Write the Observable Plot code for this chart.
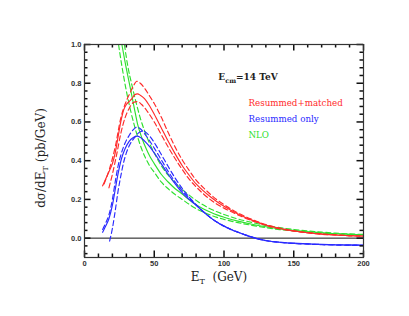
<!DOCTYPE html>
<html><head><meta charset="utf-8">
<script src="https://cdn.jsdelivr.net/npm/d3@7"></script>
<script src="https://cdn.jsdelivr.net/npm/@observablehq/plot@0.6"></script>
<style>body{margin:0;background:#fff} svg{display:block}</style>
</head><body><div id="chart"></div>
<script>
// ---- data: [E_T (GeV), dsigma/dE_T (pb/GeV)] ----
const redSolid = [[13,0.27],[15.5,0.31],[18,0.35],[20,0.385],[22,0.44],[24,0.52],[26,0.60],[28,0.66],[30,0.69],[32,0.705],[34,0.72],[36,0.74],[38,0.745],[40,0.738],[43,0.72],[46,0.69],[50,0.64],[55,0.57],[60,0.50],[65,0.435],[70,0.375],[75,0.325],[80,0.28],[85,0.245],[90,0.215],[95,0.188],[100,0.165],[110,0.125],[120,0.093],[130,0.068],[140,0.05],[150,0.037],[160,0.028],[170,0.021],[180,0.016],[190,0.013],[200,0.011]];
const redUpper = [[14,0.28],[18,0.36],[22,0.47],[26,0.62],[29,0.69],[32,0.74],[35,0.785],[37.5,0.81],[40,0.80],[43,0.775],[47,0.73],[50,0.695],[55,0.625],[60,0.545],[65,0.47],[70,0.405],[75,0.35],[80,0.30],[85,0.262],[90,0.228],[95,0.198],[100,0.173],[110,0.13],[120,0.097],[130,0.07],[140,0.052],[150,0.038],[160,0.029],[170,0.022],[180,0.017],[190,0.013],[200,0.011]];
const redLower = [[17.5,0.26],[20,0.33],[23,0.43],[26,0.54],[29,0.62],[32,0.67],[35,0.70],[38,0.705],[41,0.69],[45,0.655],[50,0.60],[55,0.535],[60,0.47],[65,0.41],[70,0.355],[75,0.305],[80,0.265],[85,0.23],[90,0.2],[95,0.175],[100,0.155],[110,0.12],[120,0.09],[130,0.066],[140,0.048],[150,0.036],[160,0.027],[170,0.02],[180,0.016],[190,0.012],[200,0.01]];

const blueSolid = [[13,0.03],[15,0.06],[17.5,0.10],[20,0.17],[22,0.25],[24,0.33],[26.5,0.41],[29,0.46],[32,0.50],[35,0.52],[38,0.527],[41,0.515],[44,0.495],[47,0.47],[50,0.44],[55,0.385],[60,0.33],[65,0.28],[70,0.235],[75,0.20],[80,0.17],[85,0.137],[90,0.107],[95,0.082],[100,0.062],[105,0.045],[110,0.03],[115,0.017],[120,0.005],[125,-0.005],[130,-0.012],[140,-0.021],[150,-0.026],[160,-0.029],[170,-0.032],[180,-0.034],[190,-0.035],[200,-0.036]];
const blueUpper = [[13,0.045],[15,0.075],[17.5,0.12],[20,0.2],[22,0.29],[24,0.37],[26.5,0.44],[29,0.49],[32,0.53],[35,0.56],[37.5,0.573],[40,0.565],[43,0.54],[46,0.51],[50,0.465],[55,0.405],[60,0.345],[65,0.29],[70,0.245],[75,0.207],[80,0.172],[85,0.138],[90,0.108],[95,0.083],[100,0.063],[110,0.031],[120,0.006],[130,-0.012],[140,-0.021],[150,-0.027],[160,-0.030],[170,-0.033],[180,-0.035],[190,-0.036],[200,-0.037]];
const blueLower = [[18,-0.015],[20,0.05],[22,0.14],[24,0.24],[26,0.32],[28,0.39],[30,0.44],[33,0.49],[36,0.52],[39,0.545],[42,0.553],[45,0.54],[48,0.515],[52,0.47],[56,0.42],[60,0.37],[65,0.31],[70,0.257],[75,0.212],[80,0.173],[85,0.138],[90,0.107],[95,0.082],[100,0.061],[110,0.03],[120,0.005],[130,-0.013],[140,-0.022],[150,-0.028],[160,-0.031],[170,-0.034],[180,-0.036],[190,-0.037],[200,-0.038]];

const greenSolid = [[26.8,1.0],[30,0.875],[33,0.77],[36,0.66],[38,0.59],[41,0.52],[44,0.465],[47,0.42],[50,0.385],[55,0.33],[60,0.29],[65,0.255],[70,0.228],[75,0.198],[80,0.172],[85,0.152],[90,0.135],[95,0.12],[100,0.108],[110,0.088],[120,0.072],[130,0.059],[140,0.048],[150,0.04],[160,0.033],[170,0.028],[180,0.023],[190,0.02],[200,0.017]];
const greenLower = [[24.4,1.0],[27,0.88],[30,0.76],[33,0.66],[36,0.575],[38,0.525],[41,0.46],[44,0.41],[47,0.37],[50,0.34],[55,0.29],[60,0.255],[65,0.225],[70,0.2],[75,0.175],[80,0.152],[85,0.135],[90,0.12],[95,0.107],[100,0.097],[110,0.08],[120,0.066],[130,0.054],[140,0.044],[150,0.037],[160,0.031],[170,0.026],[180,0.022],[190,0.019],[200,0.016]];
const greenUpper = [[28.6,1.0],[31,0.89],[34,0.79],[37,0.70],[40,0.62],[43,0.555],[46,0.50],[50,0.44],[55,0.375],[60,0.325],[65,0.285],[70,0.252],[75,0.222],[80,0.195],[85,0.172],[90,0.152],[95,0.136],[100,0.122],[110,0.099],[120,0.081],[130,0.066],[140,0.054],[150,0.045],[160,0.037],[170,0.031],[180,0.026],[190,0.022],[200,0.019]];

const xMajor = [0, 50, 100, 150, 200];
const xMinor = [10,20,30,40,60,70,80,90,110,120,130,140,160,170,180,190];
const yMajor = [0, 0.2, 0.4, 0.6, 0.8, 1.0];
const yMinor = [-0.08,-0.04,0.04,0.08,0.12,0.16,0.24,0.28,0.32,0.36,0.44,0.48,0.52,0.56,0.64,0.68,0.72,0.76,0.84,0.88,0.92,0.96];
const legendLabels = ["Resummed+matched", "Resummed only", "NLO"];

// ---- styles ----
const RED = "#ff2a2a", BLUE = "#2a2aff", GREEN = "#2ee02e";
const W = 409, H = 316, mL = 84, mR = 46, mT = 44, mB = 59;
const iW = W - mL - mR, iH = H - mT - mB;
const DASH = "5,3";
const legendColors = [RED, BLUE, GREEN];
const xDom = [0, 200], yDom = [-0.1, 1.0];
const MAJ = 6.5, MIN = 3.5;

const curves = [
  [greenLower, GREEN, DASH], [greenUpper, GREEN, DASH], [greenSolid, GREEN, null],
  [blueLower, BLUE, DASH], [blueUpper, BLUE, DASH], [blueSolid, BLUE, null],
  [redLower, RED, DASH], [redUpper, RED, DASH], [redSolid, RED, null]
];

const tk = {stroke: "#111", strokeWidth: 1.5};
const plot = Plot.plot({
  width: W, height: H,
  marginLeft: mL, marginRight: mR, marginTop: mT, marginBottom: mB,
  x: {domain: xDom, axis: null},
  y: {domain: yDom, axis: null},
  marks: [
    Plot.ruleY([0], {stroke: "#111", strokeWidth: 1}),
    ...curves.map(([data, color, dash]) => Plot.line(data, {
      x: d => d[0], y: d => d[1], stroke: color, strokeWidth: 1.15,
      strokeDasharray: dash || undefined, curve: "monotone-x"
    })),
    // ticks inside the frame on all four sides
    Plot.tickX(xMajor, {x: d => d, insetTop: iH - MAJ, ...tk}),
    Plot.tickX(xMajor, {x: d => d, insetBottom: iH - MAJ, ...tk}),
    Plot.tickX(xMinor, {x: d => d, insetTop: iH - MIN, ...tk}),
    Plot.tickX(xMinor, {x: d => d, insetBottom: iH - MIN, ...tk}),
    Plot.tickY(yMajor, {y: d => d, insetRight: iW - MAJ, ...tk}),
    Plot.tickY(yMajor, {y: d => d, insetLeft: iW - MAJ, ...tk}),
    Plot.tickY(yMinor, {y: d => d, insetRight: iW - MIN, ...tk}),
    Plot.tickY(yMinor, {y: d => d, insetLeft: iW - MIN, ...tk}),
    Plot.frame({stroke: "#333", strokeWidth: 1.2}),
    // tick labels
    Plot.text(xMajor, {x: d => d, frameAnchor: "bottom", dy: 8, text: d => String(d),
      fontSize: 7.5, fontWeight: "bold", fontFamily: "Liberation Sans", fill: "#333"}),
    Plot.text(yMajor, {y: d => d, frameAnchor: "left", dx: -3, textAnchor: "end", text: d => d3.format(".1f")(d),
      fontSize: 7.5, fontWeight: "bold", fontFamily: "Liberation Sans", fill: "#333"}),
    // legend labels
    ...legendLabels.map((lab, i) => Plot.text([lab], {frameAnchor: "top-left", dx: 164, dy: [55.5, 71.7, 87][i],
      text: d => d, textAnchor: "start", fill: legendColors[i],
      fontSize: 8.7, fontFamily: "DejaVu Serif"}))
  ]
});
document.getElementById("chart").appendChild(plot);

// titles with subscripts
const svg = d3.select(plot);
const serif = "DejaVu Serif";
// x title
const xt = svg.append("text").attr("x", 219).attr("y", 281).attr("text-anchor", "middle")
  .attr("font-family", serif).attr("font-size", 12).attr("fill", "#222").style("white-space", "pre");
xt.append("tspan").text("E");
xt.append("tspan").text("T").attr("font-size", 8).attr("dy", 3);
xt.append("tspan").text("  (GeV)").attr("dy", -3);
// y title
const yt = svg.append("text").attr("transform", "translate(45,158) rotate(-90)").attr("text-anchor", "middle")
  .attr("font-family", serif).attr("font-size", 12).attr("fill", "#222").style("white-space", "pre");
yt.append("tspan").text("dσ/dE");
yt.append("tspan").text("T").attr("font-size", 8).attr("dy", 3);
yt.append("tspan").text(" (pb/GeV)").attr("dy", -3);
// Ecm
const et = svg.append("text").attr("x", 248).attr("y", 80).attr("font-family", serif)
  .attr("font-size", 9).attr("fill", "#222").attr("font-weight", "bold");
et.append("tspan").text("E");
et.append("tspan").text("cm").attr("font-size", 6.5).attr("dy", 2.5);
et.append("tspan").text("=14 TeV").attr("dy", -2.5);
</script></body></html>
